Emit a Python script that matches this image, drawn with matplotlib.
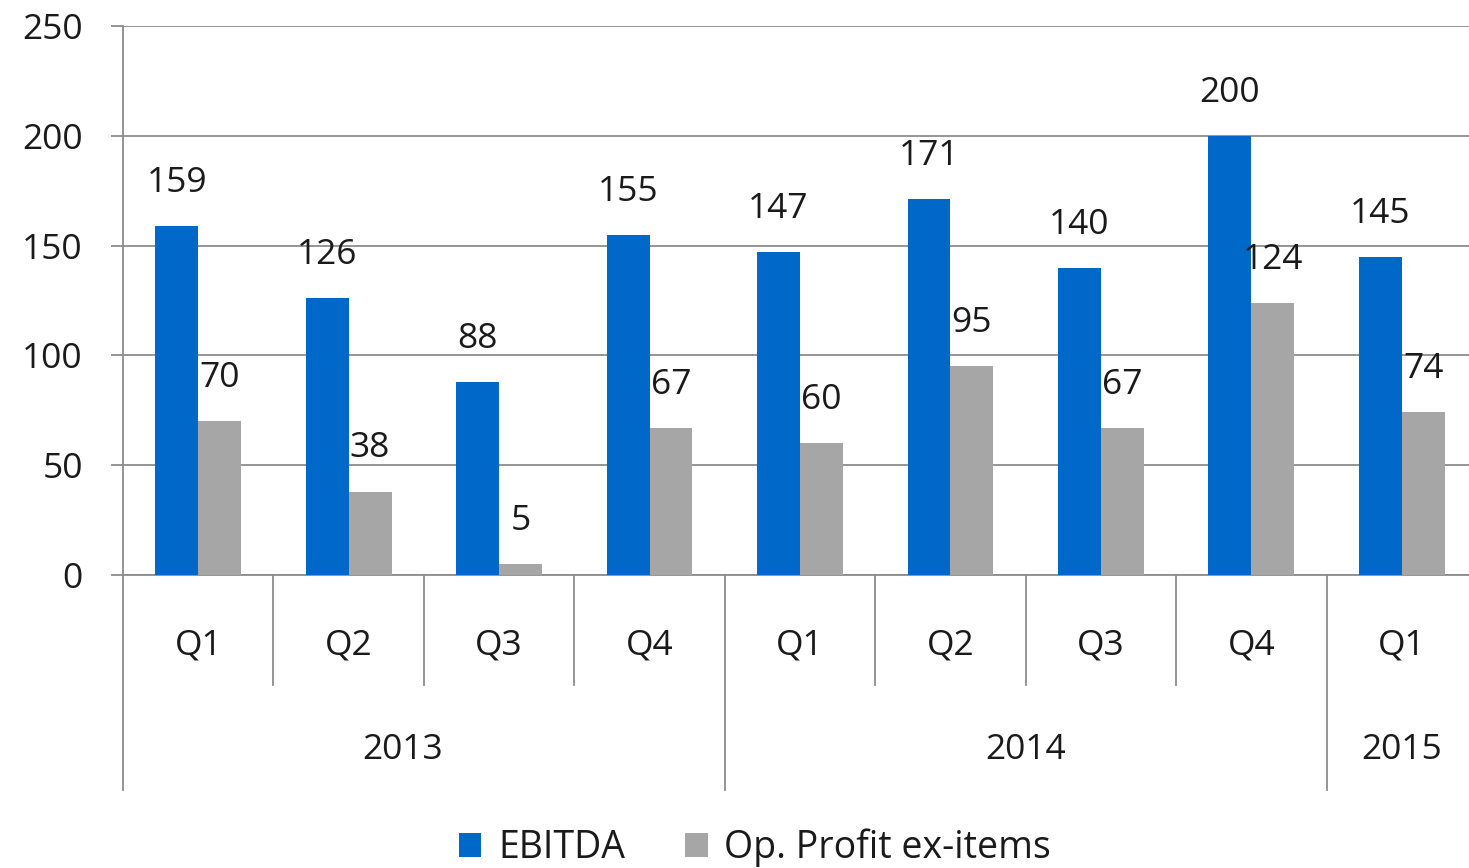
import matplotlib
matplotlib.use("Agg")
import matplotlib.pyplot as plt
from matplotlib.patches import Patch
import numpy as np

quarters = ["Q1", "Q2", "Q3", "Q4", "Q1", "Q2", "Q3", "Q4", "Q1"]
years = ["2013", "2014", "2015"]
year_counts = [4, 4, 1]
ebitda = [159, 126, 88, 155, 147, 171, 140, 200, 145]
op_profit = [70, 38, 5, 67, 60, 95, 67, 124, 74]

BLUE = "#0068C8"
GRAY = "#A6A6A6"
LINE = "#8C8C8C"
FS = 25.5
plt.rcParams['font.family'] = ['Open Sans', 'DejaVu Sans']

W, H = 1469, 868
fig = plt.figure(figsize=(W / 100, H / 100), dpi=100)
ax_left, ax_bottom_px, ax_top_px, ax_right = 123, 575, 26, 1477
ax = fig.add_axes([ax_left / W, (H - ax_bottom_px) / H,
                   (ax_right - ax_left) / W, (ax_bottom_px - ax_top_px) / H])

n = len(quarters)
x = np.arange(n) + 0.5
bw = 0.285
ax.bar(x - bw / 2, ebitda, bw, color=BLUE, zorder=3)
ax.bar(x + bw / 2, op_profit, bw, color=GRAY, zorder=3)

for xi, v in zip(x - bw / 2, ebitda):
    ax.annotate(str(v), (xi, v), xytext=(0, 31), textcoords="offset points",
                ha="center", va="center", fontsize=FS, color="#1a1a1a", zorder=4)
for xi, v in zip(x + bw / 2, op_profit):
    ax.annotate(str(v), (xi, v), xytext=(0, 31), textcoords="offset points",
                ha="center", va="center", fontsize=FS, color="#1a1a1a", zorder=4)

ax.set_xlim(0, n)
ax.set_ylim(0, 250)
ax.set_yticks(np.arange(0, 251, 50))
ax.yaxis.grid(True, color=LINE, linewidth=1.3, zorder=0)
ax.tick_params(axis="y", length=9, width=1.3, color=LINE, pad=20, labelsize=FS,
               labelcolor="#1a1a1a")
ax.set_xticks([])
for s in ["top", "right"]:
    ax.spines[s].set_visible(False)
ax.spines["left"].set_color(LINE)
ax.spines["left"].set_linewidth(1.3)
ax.spines["bottom"].set_color(LINE)
ax.spines["bottom"].set_linewidth(1.3)

trans = ax.get_xaxis_transform()
px = 1.0 / (ax_bottom_px - ax_top_px)
q_sep_bottom = -(685 - ax_bottom_px) * px
y_sep_bottom = -(790 - ax_bottom_px) * px
q_label_y = -(645 - ax_bottom_px) * px
y_label_y = -(750 - ax_bottom_px) * px

year_bounds = np.concatenate([[0], np.cumsum(year_counts)])
for i in range(n + 1):
    if i in year_bounds:
        if i >= n:
            continue
        ax.plot([i, i], [0, y_sep_bottom], color=LINE, lw=1.3, transform=trans, clip_on=False)
    else:
        ax.plot([i, i], [0, q_sep_bottom], color=LINE, lw=1.3, transform=trans, clip_on=False)

for xi, q in zip(x, quarters):
    ax.text(xi, q_label_y, q, transform=trans, ha="center", va="center",
            fontsize=FS, color="#1a1a1a")

year_offsets = [-0.14, 0.0, 0.0]
for j, yr in enumerate(years):
    cx = (year_bounds[j] + year_bounds[j + 1]) / 2 + year_offsets[j]
    ax.text(cx, y_label_y, yr, transform=trans, ha="center", va="center",
            fontsize=FS, color="#1a1a1a")

handles = [Patch(facecolor=BLUE, label="EBITDA"),
           Patch(facecolor=GRAY, label="Op. Profit ex-items")]
fig.legend(handles=handles, loc="center", bbox_to_anchor=(755 / W, 20 / H),
           ncol=2, frameon=False, fontsize=FS + 1.5, handlelength=0.6, handleheight=0.6,
           handletextpad=0.45, columnspacing=1.6, labelcolor="#1a1a1a")

fig.savefig("out.png", dpi=100)
